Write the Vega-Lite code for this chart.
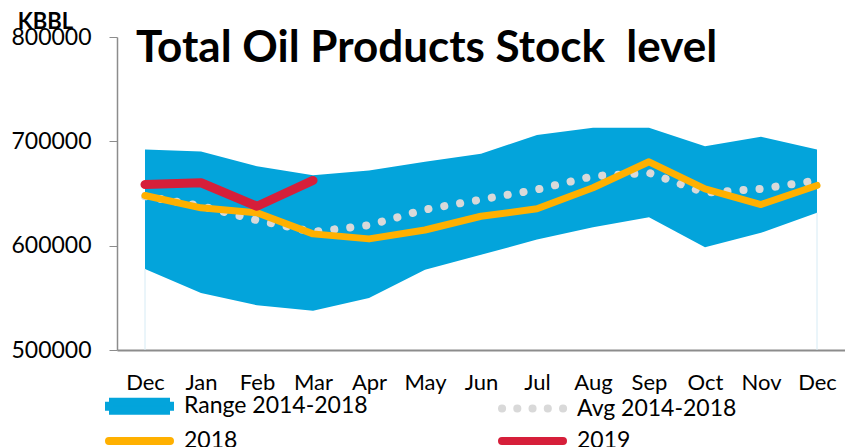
{
  "$schema": "https://vega.github.io/schema/vega-lite/v6.json",
  "width": 728,
  "height": 313,
  "autosize": {"type": "none"},
  "padding": {"left": 117, "top": 37, "right": 0, "bottom": 97},
  "background": "white",
  "config": {
    "font": "Lato",
    "view": {"stroke": null},
    "legend": {
      "orient": "none",
      "direction": "horizontal",
      "legendX": -16,
      "legendY": 355,
      "columns": 2,
      "gridAlign": "all",
      "symbolType": "M-0.6,0H5.5",
      "symbolSize": 400,
      "symbolStrokeWidth": 8,
      "labelFontSize": 23,
      "labelFont": "Lato",
      "labelColor": "black",
      "labelLimit": 400,
      "labelOffset": 55,
      "columnPadding": 118,
      "rowPadding": -6
    }
  },
  "title": {
    "text": "Total Oil Products Stock\u00a0 level",
    "anchor": "start",
    "frame": "group",
    "orient": "top",
    "baseline": "alphabetic",
    "offset": 0,
    "dx": 19,
    "dy": 96,
    "font": "Lato",
    "fontSize": 44,
    "fontWeight": "bold",
    "color": "black"
  },
  "data": {
    "values": [
      {"i": 0, "m": "Dec17", "lo": 577700, "hi": 692200, "avg": 647400, "y2018": 648100, "y2019": 658600},
      {"i": 1, "m": "Jan", "lo": 554700, "hi": 690300, "avg": 638000, "y2018": 636300, "y2019": 660300},
      {"i": 2, "m": "Feb", "lo": 542800, "hi": 676200, "avg": 624400, "y2018": 631500, "y2019": 637800},
      {"i": 3, "m": "Mar", "lo": 537700, "hi": 667600, "avg": 613200, "y2018": 611300, "y2019": 662500},
      {"i": 4, "m": "Apr", "lo": 549900, "hi": 672100, "avg": 619600, "y2018": 606500},
      {"i": 5, "m": "May", "lo": 577000, "hi": 680500, "avg": 634600, "y2018": 615000},
      {"i": 6, "m": "Jun", "lo": 591200, "hi": 688100, "avg": 644200, "y2018": 628200},
      {"i": 7, "m": "Jul", "lo": 605900, "hi": 706000, "avg": 653800, "y2018": 635300},
      {"i": 8, "m": "Aug", "lo": 617700, "hi": 713000, "avg": 666600, "y2018": 655500},
      {"i": 9, "m": "Sep", "lo": 627300, "hi": 713000, "avg": 669800, "y2018": 680400},
      {"i": 10, "m": "Oct", "lo": 598500, "hi": 695400, "avg": 650700, "y2018": 654500},
      {"i": 11, "m": "Nov", "lo": 612300, "hi": 704400, "avg": 654500, "y2018": 639400},
      {"i": 12, "m": "Dec18", "lo": 631500, "hi": 692200, "avg": 662500, "y2018": 657700}
    ]
  },
  "encoding": {
    "x": {
      "field": "m",
      "type": "ordinal",
      "sort": null,
      "scale": {"type": "point", "padding": 0.5},
      "axis": {
        "title": null,
        "labelExpr": "slice(datum.label, 0, 3)",
        "ticks": false,
        "labelFontSize": 22,
        "labelFont": "Lato",
        "labelColor": "black",
        "labelPadding": 22,
        "labelAngle": 0,
        "domainColor": "#8c8c8c",
        "domainWidth": 2
      }
    }
  },
  "layer": [
    {
      "mark": {"type": "area", "opacity": 1},
      "encoding": {
        "y": {
          "field": "lo",
          "type": "quantitative",
          "scale": {"domain": [500000, 800000], "nice": false, "zero": false},
          "axis": {
            "values": [500000, 600000, 700000, 800000],
            "format": "d",
            "grid": false,
            "labelFontSize": 23,
            "labelFont": "Lato",
            "labelColor": "black",
            "labelPadding": 18,
            "tickSize": 8,
            "tickColor": "#8c8c8c",
            "domainColor": "#8c8c8c",
            "domainWidth": 1.5,
            "title": "KBBL",
            "titleAngle": 0,
            "titleX": -72,
            "titleY": -9,
            "titleAlign": "center",
            "titleBaseline": "alphabetic",
            "titleFont": "Lato",
            "titleFontSize": 22,
            "titleFontWeight": "bold",
            "titleColor": "black"
          }
        },
        "y2": {"field": "hi"},
        "color": {
          "datum": "Range 2014-2018",
          "type": "nominal",
          "scale": {
            "domain": ["Range 2014-2018", "Avg 2014-2018", "2018", "2019"],
            "range": ["#03a4db", "#d9d9d9", "#ffb000", "#d61f3a"]
          },
          "legend": {
            "title": null,
            "encode": {
              "symbols": {
                "update": {
                  "shape": {"signal": "datum.value === 'Range 2014-2018' ? 'M-0.6,-0.45H5.5V0.45H-0.6Z' : datum.value === 'Avg 2014-2018' ? 'M-0.6,0h0.01M0.925,0h0.01M2.45,0h0.01M3.975,0h0.01M5.5,0h0.01' : 'M-0.6,0H5.5'"},
                  "strokeWidth": {"value": 8},
                  "strokeCap": {"signal": "datum.value === 'Range 2014-2018' ? 'butt' : 'round'"},
                  "strokeJoin": {"value": "miter"},
                  "strokeDash": {"value": [1, 0]},
                  "stroke": {"scale": "color", "field": "value"},
                  "fill": {"signal": "datum.value === 'Range 2014-2018' ? scale('color', datum.value) : 'transparent'"},
                  "opacity": {"value": 1},
                  "strokeOpacity": {"value": 1}
                }
              }
            }
          }
        }
      }
    },
    {
      "transform": [{"filter": "datum.i == 0 || datum.i == 12"}],
      "mark": {"type": "rule", "color": "#d6ebf5", "strokeWidth": 1},
      "encoding": {
        "y": {"field": "lo", "type": "quantitative"},
        "y2": {"datum": 500000}
      }
    },
    {
      "mark": {"type": "line", "strokeWidth": 8, "strokeDash": [0.1, 16], "strokeCap": "round"},
      "encoding": {
        "y": {"field": "avg", "type": "quantitative"},
        "color": {
          "datum": "Avg 2014-2018",
          "type": "nominal",
          "legend": {
            "title": null,
            "encode": {
              "symbols": {
                "update": {
                  "shape": {"signal": "datum.value === 'Range 2014-2018' ? 'M-0.6,-0.45H5.5V0.45H-0.6Z' : datum.value === 'Avg 2014-2018' ? 'M-0.6,0h0.01M0.925,0h0.01M2.45,0h0.01M3.975,0h0.01M5.5,0h0.01' : 'M-0.6,0H5.5'"},
                  "strokeWidth": {"value": 8},
                  "strokeCap": {"signal": "datum.value === 'Range 2014-2018' ? 'butt' : 'round'"},
                  "strokeJoin": {"value": "miter"},
                  "strokeDash": {"value": [1, 0]},
                  "stroke": {"scale": "color", "field": "value"},
                  "fill": {"signal": "datum.value === 'Range 2014-2018' ? scale('color', datum.value) : 'transparent'"},
                  "opacity": {"value": 1},
                  "strokeOpacity": {"value": 1}
                }
              }
            }
          }
        }
      }
    },
    {
      "mark": {"type": "line", "strokeWidth": 7, "strokeCap": "round", "strokeJoin": "round"},
      "encoding": {
        "y": {"field": "y2018", "type": "quantitative"},
        "color": {
          "datum": "2018",
          "type": "nominal",
          "legend": {
            "title": null,
            "encode": {
              "symbols": {
                "update": {
                  "shape": {"signal": "datum.value === 'Range 2014-2018' ? 'M-0.6,-0.45H5.5V0.45H-0.6Z' : datum.value === 'Avg 2014-2018' ? 'M-0.6,0h0.01M0.925,0h0.01M2.45,0h0.01M3.975,0h0.01M5.5,0h0.01' : 'M-0.6,0H5.5'"},
                  "strokeWidth": {"value": 8},
                  "strokeCap": {"signal": "datum.value === 'Range 2014-2018' ? 'butt' : 'round'"},
                  "strokeJoin": {"value": "miter"},
                  "strokeDash": {"value": [1, 0]},
                  "stroke": {"scale": "color", "field": "value"},
                  "fill": {"signal": "datum.value === 'Range 2014-2018' ? scale('color', datum.value) : 'transparent'"},
                  "opacity": {"value": 1},
                  "strokeOpacity": {"value": 1}
                }
              }
            }
          }
        }
      }
    },
    {
      "mark": {"type": "line", "strokeWidth": 9, "strokeCap": "round", "strokeJoin": "round"},
      "encoding": {
        "y": {"field": "y2019", "type": "quantitative"},
        "color": {
          "datum": "2019",
          "type": "nominal",
          "legend": {
            "title": null,
            "encode": {
              "symbols": {
                "update": {
                  "shape": {"signal": "datum.value === 'Range 2014-2018' ? 'M-0.6,-0.45H5.5V0.45H-0.6Z' : datum.value === 'Avg 2014-2018' ? 'M-0.6,0h0.01M0.925,0h0.01M2.45,0h0.01M3.975,0h0.01M5.5,0h0.01' : 'M-0.6,0H5.5'"},
                  "strokeWidth": {"value": 8},
                  "strokeCap": {"signal": "datum.value === 'Range 2014-2018' ? 'butt' : 'round'"},
                  "strokeJoin": {"value": "miter"},
                  "strokeDash": {"value": [1, 0]},
                  "stroke": {"scale": "color", "field": "value"},
                  "fill": {"signal": "datum.value === 'Range 2014-2018' ? scale('color', datum.value) : 'transparent'"},
                  "opacity": {"value": 1},
                  "strokeOpacity": {"value": 1}
                }
              }
            }
          }
        }
      }
    }
  ]
}
